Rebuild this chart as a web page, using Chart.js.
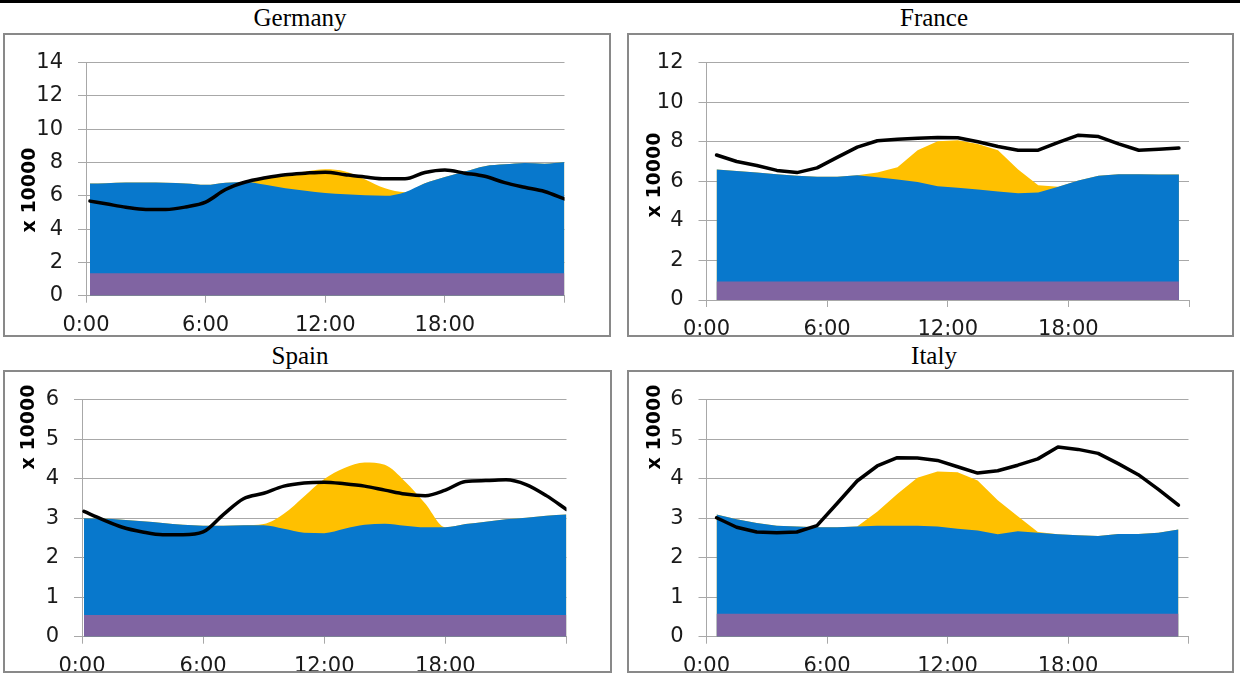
<!DOCTYPE html>
<html>
<head>
<meta charset="utf-8">
<script src="https://cdn.jsdelivr.net/npm/chart.js@4.4.1/dist/chart.umd.min.js"></script>
<style>
  html, body { margin: 0; padding: 0; background: #fff; }
  body { width: 1240px; height: 674px; position: relative; overflow: hidden; }
  .rule { position: absolute; left: 0; top: 0; width: 1240px; height: 3px; background: #000; }
  .title { position: absolute; width: 300px; margin-left: -150px; text-align: center;
           font: 25px/28px "Liberation Serif", serif; color: #000; }
  .box { position: absolute; border: 2px solid #898989; box-sizing: border-box; }
  .box canvas { position: absolute; left: 0; top: 0; }
  .ylab { position: absolute; font: bold 19px "DejaVu Sans", sans-serif; color: #000;
          white-space: nowrap; transform: translate(-50%, -50%) rotate(-90deg); z-index: 2; }
</style>
</head>
<body>
<div class="rule"></div>
<div class="title" style="left:300px; top:4px;">Germany</div>
<div class="title" style="left:934px; top:4px;">France</div>
<div class="title" style="left:300px; top:342px;">Spain</div>
<div class="title" style="left:934px; top:342px;">Italy</div>
<div class="ylab" style="left:28px; top:190px;">x 10000</div>
<div class="ylab" style="left:653px; top:175px;">x 10000</div>
<div class="ylab" style="left:27px; top:427px;">x 10000</div>
<div class="ylab" style="left:653px; top:427px;">x 10000</div>
<script>
// hours of day for each series
const hoursDE = [0.2, 1, 2, 3, 4, 5, 6, 7, 8, 9, 10, 11, 12, 13, 14, 15, 16, 17, 18, 19, 20, 21, 22, 23, 24];
const hoursES = [0.1, 1, 2, 3, 4, 5, 6, 7, 8, 9, 10, 11, 12, 13, 14, 15, 16, 17, 18, 19, 20, 21, 22, 23, 24];
const hoursFR = [0.5, 1.5, 2.5, 3.5, 4.5, 5.5, 6.5, 7.5, 8.5, 9.5, 10.5, 11.5, 12.5, 13.5, 14.5, 15.5, 16.5, 17.5, 18.5, 19.5, 20.5, 21.5, 22.5, 23.5];
const hoursIT = [0.5, 1.5, 2.5, 3.5, 4.5, 5.5, 6.5, 7.5, 8.5, 9.5, 10.5, 11.5, 12.5, 13.5, 14.5, 15.5, 16.5, 17.5, 18.5, 19.5, 20.5, 21.5, 22.5, 23.5];

// base band (flat), start and end of day
const baseHoursDE = [0.2, 24];
const baseDE = [1.35, 1.35];
const baseHoursFR = [0.5, 23.5];
const baseFR = [0.93, 0.93];
const baseHoursES = [0.1, 24];
const baseES = [0.55, 0.55];
const baseHoursIT = [0.5, 23.5];
const baseIT = [0.58, 0.58];

// top of blue layer (x 10000)
const otherDE = [6.74, 6.76, 6.8, 6.8, 6.78, 6.74, 6.66, 6.79, 6.83, 6.66, 6.45, 6.3, 6.17, 6.09, 6.03, 6.0, 6.22, 6.75, 7.13, 7.46, 7.78, 7.89, 7.97, 7.93, 8.03];
const otherFR = [6.6, 6.52, 6.44, 6.36, 6.28, 6.23, 6.23, 6.31, 6.2, 6.09, 5.96, 5.75, 5.67, 5.59, 5.48, 5.39, 5.43, 5.72, 6.04, 6.28, 6.36, 6.36, 6.34, 6.34];
const otherES = [3.0, 2.99, 2.96, 2.92, 2.88, 2.83, 2.81, 2.81, 2.82, 2.82, 2.73, 2.63, 2.62, 2.73, 2.83, 2.86, 2.81, 2.77, 2.77, 2.85, 2.91, 2.97, 3.01, 3.06, 3.09];
const otherIT = [3.09, 2.97, 2.88, 2.81, 2.79, 2.77, 2.77, 2.79, 2.81, 2.81, 2.81, 2.79, 2.73, 2.69, 2.59, 2.67, 2.63, 2.59, 2.57, 2.55, 2.6, 2.6, 2.63, 2.71];

// top of yellow (solar) layer
const solarDE = [6.74, 6.76, 6.8, 6.8, 6.78, 6.74, 6.66, 6.79, 6.83, 7.02, 7.27, 7.46, 7.59, 7.46, 6.98, 6.45, 6.22, 6.75, 7.13, 7.46, 7.78, 7.89, 7.97, 7.93, 8.03];
const solarFR = [6.6, 6.52, 6.44, 6.36, 6.28, 6.23, 6.23, 6.31, 6.44, 6.71, 7.57, 8.02, 8.08, 7.89, 7.57, 6.6, 5.8, 5.72, 6.04, 6.28, 6.36, 6.36, 6.34, 6.34];
const solarES = [3.0, 2.99, 2.96, 2.92, 2.88, 2.83, 2.81, 2.81, 2.82, 2.85, 3.11, 3.55, 3.99, 4.27, 4.41, 4.35, 3.93, 3.37, 2.77, 2.85, 2.91, 2.97, 3.01, 3.06, 3.09];
const solarIT = [3.09, 2.97, 2.88, 2.81, 2.79, 2.77, 2.77, 2.79, 3.16, 3.61, 4.02, 4.18, 4.16, 3.95, 3.45, 3.05, 2.65, 2.59, 2.57, 2.55, 2.6, 2.6, 2.63, 2.71];

// demand line
const demandDE = [5.68, 5.52, 5.31, 5.18, 5.18, 5.33, 5.62, 6.38, 6.83, 7.08, 7.27, 7.36, 7.42, 7.27, 7.13, 7.02, 7.02, 7.4, 7.55, 7.36, 7.17, 6.79, 6.51, 6.26, 5.81];
const demandFR = [7.33, 7.0, 6.8, 6.55, 6.44, 6.68, 7.21, 7.73, 8.05, 8.12, 8.18, 8.21, 8.2, 8.0, 7.76, 7.57, 7.57, 7.97, 8.33, 8.26, 7.89, 7.57, 7.62, 7.68];
const demandES = [3.17, 2.97, 2.77, 2.65, 2.58, 2.58, 2.65, 3.09, 3.49, 3.63, 3.81, 3.89, 3.91, 3.87, 3.81, 3.71, 3.61, 3.57, 3.71, 3.93, 3.95, 3.97, 3.85, 3.57, 3.22];
const demandIT = [3.01, 2.77, 2.65, 2.63, 2.65, 2.81, 3.37, 3.94, 4.32, 4.53, 4.52, 4.46, 4.3, 4.14, 4.2, 4.34, 4.5, 4.8, 4.74, 4.64, 4.38, 4.1, 3.73, 3.33];

const xTicks = [0, 6, 12, 18, 24];

const PURPLE = '#8064a2';
const BLUE = '#0878cc';
const YELLOW = '#ffc000';
const GRID = '#a8a8a8';
const TICK_FONT = { family: 'DejaVu Sans', size: 21 };

function pts(xs, ys) {
    return xs.map((x, i) => ({ x: x, y: ys[i] }));
}

function area(data, color, smooth) {
    return {
        data: data,
        order: 1,
        fill: 'origin',
        backgroundColor: color,
        borderColor: 'rgba(0,0,0,0)',
        borderWidth: 0,
        pointRadius: 0,
        cubicInterpolationMode: smooth ? 'monotone' : 'default',
        tension: 0
    };
}

/**
 * Build one country panel
 * @param {Object} p  box = [left, top, width, height], plot = [left, top, right, bottom] in page px
 */
function makePanel(p) {
    const box = document.createElement('div');
    box.className = 'box';
    box.style.left = p.box[0] + 'px';
    box.style.top = p.box[1] + 'px';
    box.style.width = p.box[2] + 'px';
    box.style.height = p.box[3] + 'px';
    const canvas = document.createElement('canvas');
    const w = p.box[2] - 4, h = p.box[3] - 4;
    canvas.width = w;
    canvas.height = h;
    canvas.style.width = w + 'px';
    canvas.style.height = h + 'px';
    box.appendChild(canvas);
    document.body.appendChild(box);

    const ox = p.box[0] + 2, oy = p.box[1] + 2;
    const axisW = p.plot[0] - ox;
    const padTop = p.plot[1] - oy;
    const padRight = w - (p.plot[2] - ox);
    const axisH = h - (p.plot[3] - oy);

    return new Chart(canvas.getContext('2d'), {
        type: 'line',
        data: {
            datasets: [
                area(pts(p.baseHours, p.base), PURPLE, false),
                area(pts(p.hours, p.other), BLUE, p.smooth),
                area(pts(p.hours, p.solar), YELLOW, p.smooth),
                {
                    data: pts(p.hours, p.demand),
                    order: 0,
                    fill: false,
                    borderColor: '#000000',
                    borderWidth: 3.5,
                    pointRadius: 0,
                    cubicInterpolationMode: p.smooth ? 'monotone' : 'default',
                    tension: 0,
                    borderJoinStyle: 'round',
                    borderCapStyle: 'round'
                }
            ]
        },
        options: {
            responsive: false,
            animation: false,
            devicePixelRatio: 1,
            layout: { padding: { left: 0, top: padTop, right: padRight, bottom: 0 } },
            plugins: {
                legend: { display: false },
                tooltip: { enabled: false }
            },
            scales: {
                x: {
                    type: 'linear',
                    min: 0,
                    max: 24,
                    afterBuildTicks: function(scale) {
                        scale.ticks = xTicks.map(v => ({ value: v }));
                    },
                    afterFit: function(scale) {
                        scale.height = axisH;
                    },
                    grid: {
                        drawOnChartArea: false,
                        drawTicks: true,
                        tickLength: 7,
                        color: GRID
                    },
                    border: { color: GRID, width: 1 },
                    ticks: {
                        autoSkip: false,
                        maxRotation: 0,
                        padding: 10,
                        color: '#1a1a1a',
                        font: TICK_FONT,
                        callback: function(value) {
                            return value === 24 ? '' : value + ':00';
                        }
                    }
                },
                y: {
                    min: 0,
                    max: p.yMax,
                    afterFit: function(scale) {
                        scale.width = axisW;
                    },
                    grid: {
                        color: GRID,
                        lineWidth: 1,
                        tickLength: 8
                    },
                    border: { color: GRID, width: 1 },
                    ticks: {
                        stepSize: p.yStep,
                        padding: 15,
                        color: '#1a1a1a',
                        font: TICK_FONT
                    }
                }
            }
        }
    });
}

makePanel({
    box: [3, 33, 608, 304], plot: [86, 50, 564.5, 295.7], yMax: 14, yStep: 2, smooth: true,
    hours: hoursDE, baseHours: baseHoursDE, base: baseDE, other: otherDE, solar: solarDE, demand: demandDE
});
makePanel({
    box: [627, 33, 607, 304], plot: [706.5, 51.7, 1189, 300], yMax: 12, yStep: 2, smooth: false,
    hours: hoursFR, baseHours: baseHoursFR, base: baseFR, other: otherFR, solar: solarFR, demand: demandFR
});
makePanel({
    box: [3, 370, 609, 303], plot: [82, 387.3, 566.5, 636.7], yMax: 6, yStep: 1, smooth: true,
    hours: hoursES, baseHours: baseHoursES, base: baseES, other: otherES, solar: solarES, demand: demandES
});
makePanel({
    box: [627, 370, 607, 303], plot: [706.5, 387.7, 1188.5, 636.7], yMax: 6, yStep: 1, smooth: false,
    hours: hoursIT, baseHours: baseHoursIT, base: baseIT, other: otherIT, solar: solarIT, demand: demandIT
});
</script>
</body>
</html>
